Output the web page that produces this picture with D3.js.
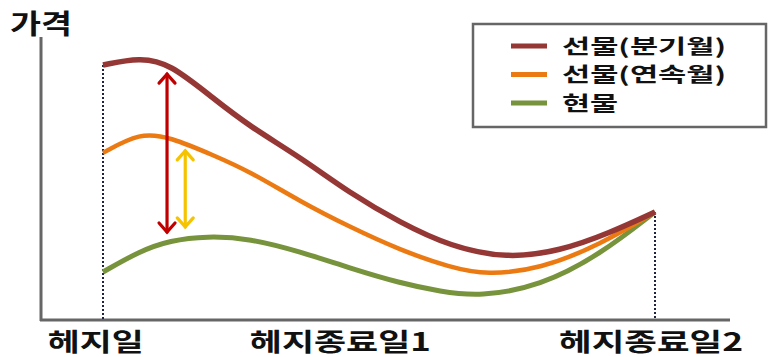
<!DOCTYPE html>
<html><head><meta charset="utf-8">
<script src="https://cdn.jsdelivr.net/npm/d3@7"></script>
<style>body{margin:0;background:#fff}svg{display:block}text{font-family:"Noto Sans CJK KR","Noto Sans",sans-serif;font-weight:700;fill:#111}</style>
</head><body>
<script>
// data (t: time 0=hedge day, 100=hedge end 2; v: price units)
const seriesNames = ["선물(분기월)", "선물(연속월)", "현물"];
const seriesColors = ["#953735", "#ec7a12", "#77933c"];
const tQuarter = [0, 6.7, 12.1, 19.9, 26.6, 35.7, 44.7, 53.8, 62.9, 73.2, 82.8, 91.8, 100];
const vQuarter = [85, 87.5, 85.5, 74, 64.5, 54.3, 42.3, 32.5, 24.5, 20.5, 23, 29, 36];
const tNearby = [0, 6.7, 12.1, 19.9, 26.6, 35.7, 44.7, 53.8, 62.9, 69.6, 79.2, 90, 100];
const vNearby = [55.7, 62.5, 61, 55, 49.5, 39.5, 31, 23.3, 17.5, 15, 17, 25, 36];
const tSpot = [0, 6.7, 12.1, 18.8, 26.6, 35.7, 44.7, 53.8, 61.1, 68.3, 79.2, 90, 100];
const vSpot = [16, 23, 26.5, 28, 27.2, 22.8, 17.3, 12.3, 9.5, 7.8, 11.3, 21.7, 36];
const xLabels = ["헤지일", "헤지종료일1", "헤지종료일2"];
const xLabelPos = [-1.3, 43, 99.3];
const yTitle = "가격";
const arrowRed = {t: 11.6, v0: 82.3, v1: 29};
const arrowYellow = {t: 14.9, v0: 56.7, v1: 30.7};

const W = 770, H = 357;
const svg = d3.select("body").append("svg").attr("width", W).attr("height", H);
const x = d3.scaleLinear().domain([0, 100]).range([103, 655]);
const y = d3.scaleLinear().domain([0, 100]).range([320, 20]);

// axes
svg.append("line").attr("x1", 41).attr("x2", 41).attr("y1", 37).attr("y2", 321)
  .attr("stroke", "#666").attr("stroke-width", 3);
svg.append("line").attr("x1", 40).attr("x2", 730).attr("y1", 320).attr("y2", 320)
  .attr("stroke", "#666").attr("stroke-width", 3);

// dotted verticals
svg.append("line").attr("x1", x(0)).attr("x2", x(0)).attr("y1", y(vQuarter[0])).attr("y2", 320)
  .attr("stroke", "#1f2340").attr("stroke-width", 2).attr("stroke-dasharray", "2,2");
svg.append("line").attr("x1", x(100)).attr("x2", x(100)).attr("y1", y(vQuarter[vQuarter.length-1])).attr("y2", 320)
  .attr("stroke", "#1f2340").attr("stroke-width", 2).attr("stroke-dasharray", "2,2");

const line = d3.line().x(d => x(d[0])).y(d => y(d[1])).curve(d3.curveBasis);
const data = [
  d3.zip(tSpot, vSpot),
  d3.zip(tNearby, vNearby),
  d3.zip(tQuarter, vQuarter)
];
const colorsOrder = [seriesColors[2], seriesColors[1], seriesColors[0]];
const widths = [5, 4.5, 5.5];
data.forEach((d, i) => {
  svg.append("path").attr("d", line(d)).attr("fill", "none")
    .attr("stroke", colorsOrder[i]).attr("stroke-width", widths[i]).attr("stroke-linecap", "butt");
});

// double arrows
function dArrow(a, color) {
  const xx = x(a.t), yt = y(a.v0), yb = y(a.v1);
  const g = svg.append("g").attr("stroke", color).attr("stroke-width", 3.2).attr("fill", "none")
    .attr("stroke-linecap", "round").attr("stroke-linejoin", "miter");
  g.append("line").attr("x1", xx).attr("x2", xx).attr("y1", yt + 1).attr("y2", yb - 1);
  g.append("path").attr("d", `M${xx-8},${yt+10} L${xx},${yt+1} L${xx+8},${yt+10}`);
  g.append("path").attr("d", `M${xx-8},${yb-10} L${xx},${yb-1} L${xx+8},${yb-10}`);
}
dArrow(arrowRed, "#c00000");
dArrow(arrowYellow, "#f5c300");

// titles
svg.append("text").attr("x", 10).attr("y", 34).attr("font-size", 27)
  .attr("textLength", 62).attr("lengthAdjust", "spacingAndGlyphs").text(yTitle);
const labelWidths = [96, 181, 184];
xLabels.forEach((l, i) => {
  svg.append("text").attr("x", x(xLabelPos[i]) - labelWidths[i] / 2).attr("y", 351)
    .attr("font-size", 25).attr("textLength", labelWidths[i]).attr("lengthAdjust", "spacingAndGlyphs").text(l);
});

// legend
svg.append("rect").attr("x", 473).attr("y", 24).attr("width", 293).attr("height", 103)
  .attr("fill", "#fff").attr("stroke", "#666").attr("stroke-width", 2.5);
const legendWidths = [164, 164, 56];
seriesNames.forEach((n, i) => {
  const yy = 46 + i * 28.5;
  svg.append("line").attr("x1", 511).attr("x2", 547).attr("y1", yy).attr("y2", yy)
    .attr("stroke", seriesColors[i]).attr("stroke-width", 5);
  svg.append("text").attr("x", 562).attr("y", yy + 7.5).attr("font-size", 20)
    .attr("textLength", legendWidths[i]).attr("lengthAdjust", "spacingAndGlyphs").text(n);
});
</script>
</body></html>
